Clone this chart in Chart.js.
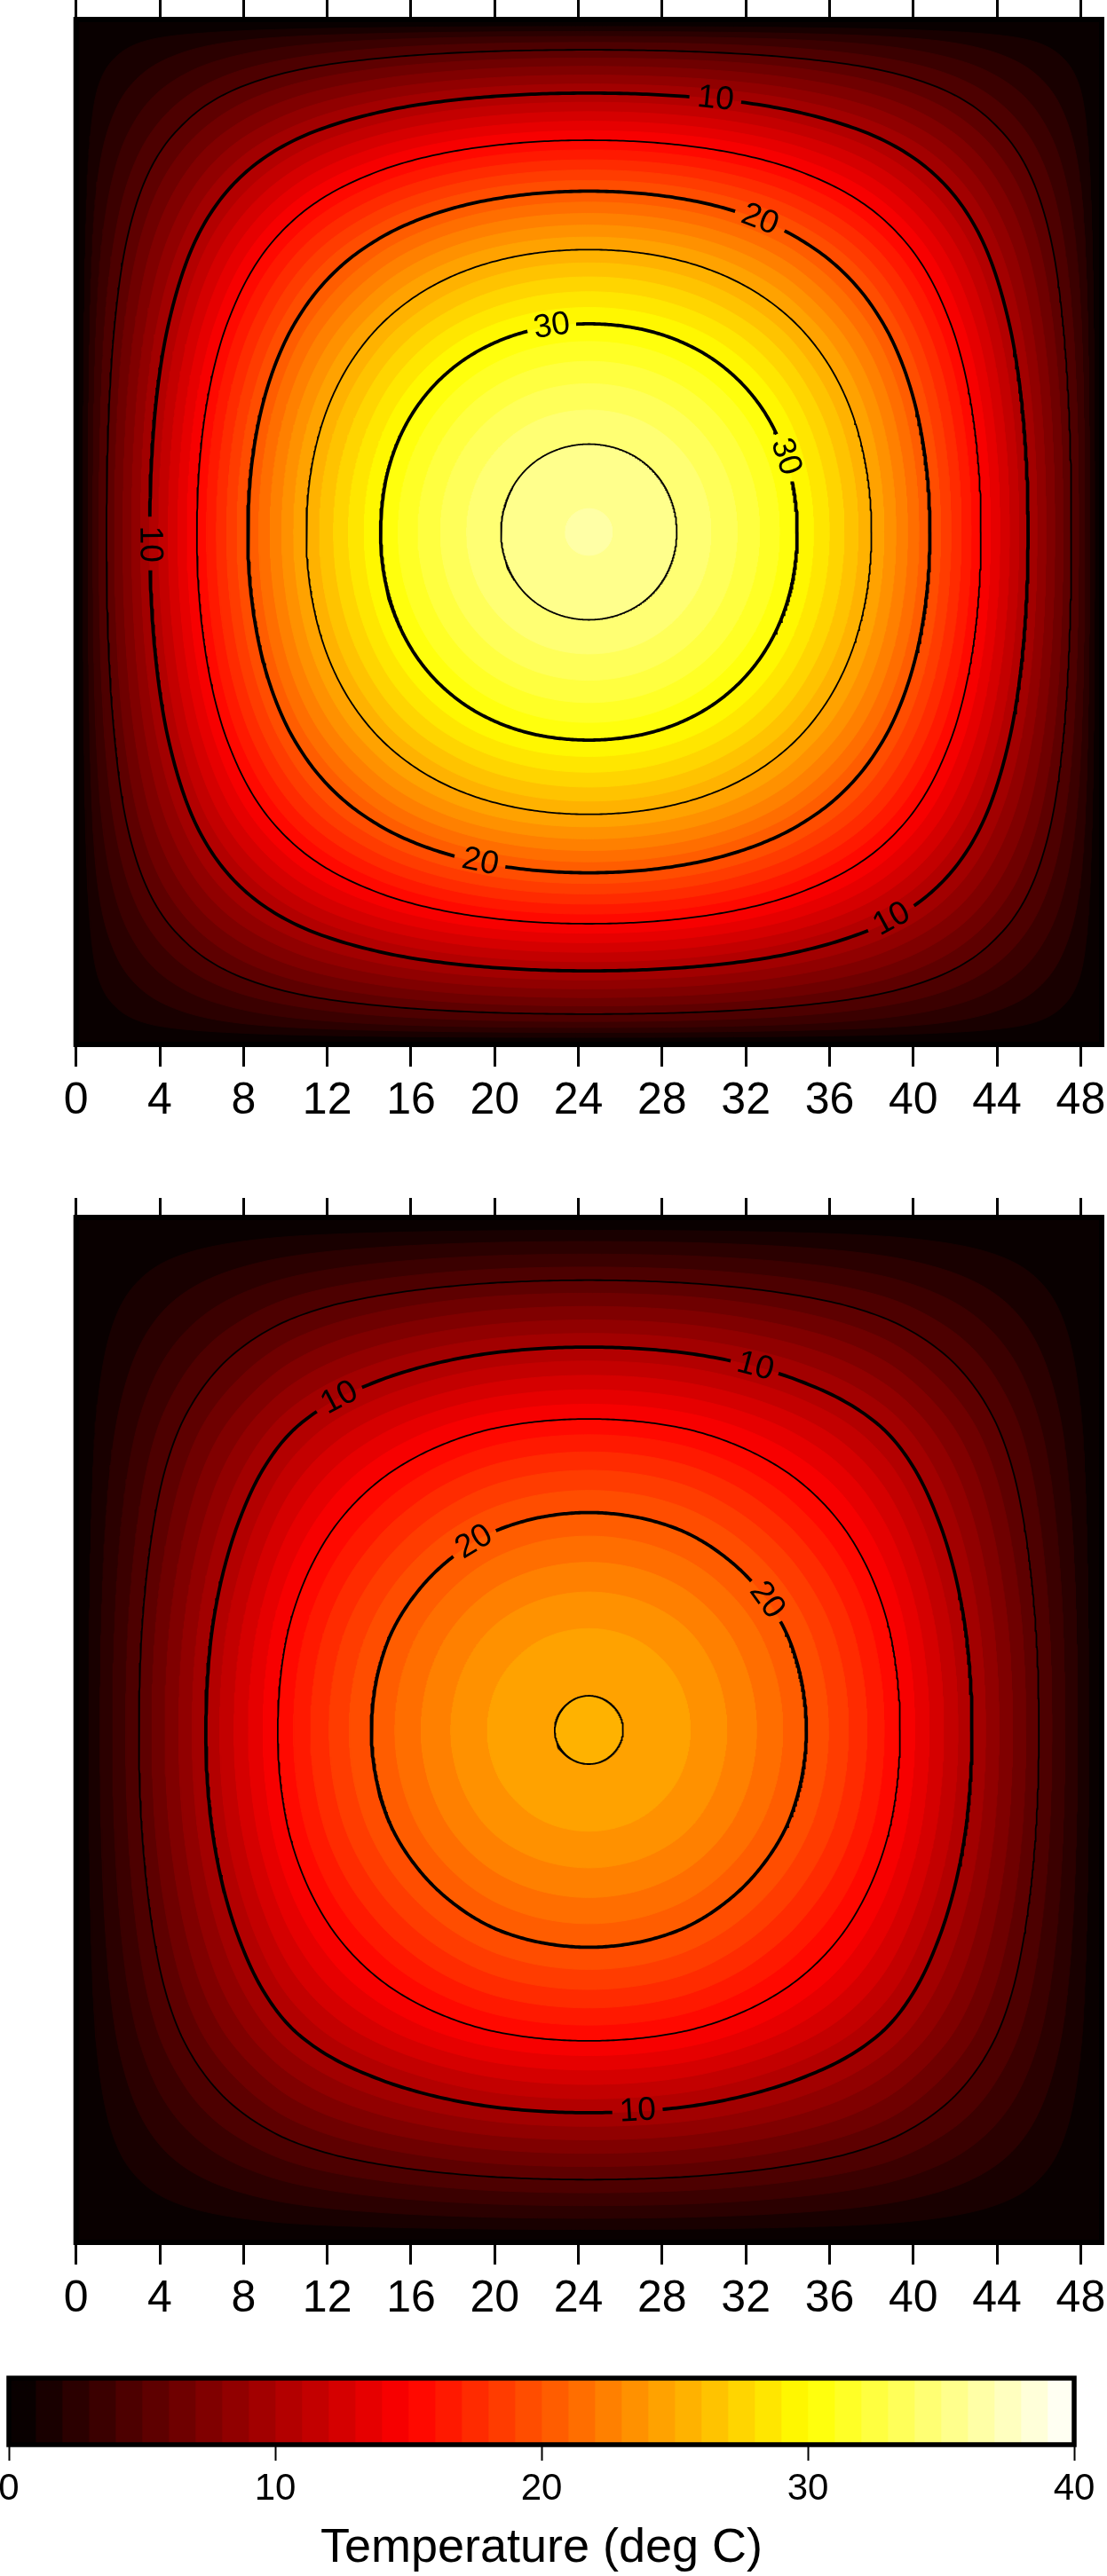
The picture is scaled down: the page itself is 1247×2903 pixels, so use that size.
<!DOCTYPE html>
<html lang="en">
<head>
<meta charset="UTF-8">
<title>Plate temperature</title>
<script src="https://cdn.jsdelivr.net/npm/chart.js@4"></script>
<style>
  body { margin: 0; background: #fff; width: 1247px; height: 2903px; position: relative; overflow: hidden; }
  canvas { position: absolute; left: 0; }
</style>
</head>
<body>
<canvas id="topPlate" width="1247" height="1300" style="top:0"></canvas>
<canvas id="bottomPlate" width="1247" height="1300" style="top:1340px"></canvas>
<canvas id="colorBar" width="1247" height="263" style="top:2640px"></canvas>
<script>
// temperature along the middle row of each plate (deg C), read at x = 0, 1, ... 49
const topRow = [0, 3.7, 6.4, 8.8, 11.1, 13.3, 15.5, 17.6, 19.6, 21.5, 23.3, 25.0, 26.55, 27.98, 29.3, 30.55, 31.65, 32.63, 33.49, 34.23, 34.84, 35.33, 35.7, 35.94, 36.06,
                36.06, 35.94, 35.7, 35.33, 34.84, 34.23, 33.49, 32.63, 31.65, 30.55, 29.3, 27.98, 26.55, 25.0, 23.3, 21.5, 19.6, 17.6, 15.5, 13.3, 11.1, 8.8, 6.4, 3.7, 0];
const bottomRow = [0, 1.75, 3.4, 5.0, 6.6, 8.15, 9.7, 11.2, 12.65, 14.1, 15.5, 16.75, 17.9, 18.95, 19.9, 20.8, 21.62, 22.38, 23.06, 23.66, 24.16, 24.54, 24.83, 25.02, 25.12,
                   25.12, 25.02, 24.83, 24.54, 24.16, 23.66, 23.06, 22.38, 21.62, 20.8, 19.9, 18.95, 17.9, 16.75, 15.5, 14.1, 12.65, 11.2, 9.7, 8.15, 6.6, 5.0, 3.4, 1.75, 0];

// colour table slices (deg C)
const binEdges = [0, 1, 2, 3, 4, 5, 6, 7, 8, 9, 10, 11, 12, 13, 14, 15, 16, 17, 18, 19, 20,
                  21, 22, 23, 24, 25, 26, 27, 28, 29, 30, 31, 32, 33, 34, 35, 36, 37, 38, 39, 40];
const contourLevels = [5, 10, 15, 20, 25, 30, 35];
const labelledLevels = [10, 20, 30];
// contour labels: [level, direction from plate centre in degrees]
const topLabels = [[10, 73.7], [20, 61.3], [30, 100.2], [30, 20.9], [10, 181.6], [20, 251.8], [10, 308]];
const bottomLabels = [[10, 126.9], [10, 65.4], [20, 121.4], [20, 36.1], [10, 277.3]];

const xTicks = [0, 4, 8, 12, 16, 20, 24, 28, 32, 36, 40, 44, 48];
const barTicks = [0, 10, 20, 30, 40];
const barTitle = 'Temperature (deg C)';

Chart.defaults.font.family = "'Liberation Sans', Arial, Helvetica, sans-serif";
Chart.defaults.color = '#000';

const tMin = binEdges[0], tMax = binEdges[binEdges.length - 1];

function hot(t) {
  const f = (t - tMin) / (tMax - tMin);
  const r = Math.min(1, f / 0.375);
  const g = Math.min(1, Math.max(0, (f - 0.375) / 0.375));
  const b = Math.min(1, Math.max(0, (f - 0.75) / 0.25));
  return 'rgb(' + Math.round(r * 255) + ',' + Math.round(g * 255) + ',' + Math.round(b * 255) + ')';
}

// Catmull-Rom between the read values so the contours come out smooth
function along(row, x) {
  const n = row.length;
  x = Math.max(0, Math.min(n - 1, x));
  const i = Math.min(Math.floor(x), n - 2);
  const f = x - i;
  const p0 = row[Math.max(i - 1, 0)], p1 = row[i], p2 = row[i + 1], p3 = row[Math.min(i + 2, n - 1)];
  return p1 + 0.5 * f * (p2 - p0 + f * (2 * p0 - 5 * p1 + 4 * p2 - p3 + f * (3 * (p1 - p2) + p3 - p0)));
}

// plate is separable: T(x, y) = row(x) * row(y) / row(centre)
function rayPoint(row, level, deg) {
  const c = (row.length - 1) / 2, peak = along(row, c);
  const a = deg * Math.PI / 180, dx = Math.cos(a), dy = Math.sin(a);
  let lo = 0, hi = c / Math.max(Math.abs(dx), Math.abs(dy));
  for (let k = 0; k < 40; k++) {
    const m = (lo + hi) / 2;
    if (along(row, c + m * dx) * along(row, c + m * dy) / peak >= level) lo = m; else hi = m;
  }
  return {x: c + lo * dx, y: c + lo * dy};
}

function ring(row, level, n) {
  const pts = [];
  for (let i = 0; i <= n; i++) pts.push(rayPoint(row, level, 360 * (i % n) / n));
  return pts;
}

const framePlugin = {
  id: 'frame',
  beforeDatasetsDraw(chart, args, opts) {
    if (!opts.background) return;
    const {ctx, chartArea: a} = chart;
    ctx.save();
    ctx.fillStyle = opts.background;
    ctx.fillRect(a.left, a.top, a.right - a.left, a.bottom - a.top);
    ctx.restore();
  },
  afterDraw(chart, args, opts) {
    const {ctx, chartArea: a} = chart;
    ctx.save();
    ctx.strokeStyle = '#000';
    ctx.lineWidth = opts.width || 6;
    ctx.strokeRect(a.left, a.top, a.right - a.left, a.bottom - a.top);
    ctx.restore();
  }
};

const labelPlugin = {
  id: 'contourLabels',
  afterDatasetsDraw(chart, args, opts) {
    if (!opts.items) return;
    const {ctx, scales: {x, y}} = chart;
    ctx.save();
    ctx.font = '37px ' + Chart.defaults.font.family;
    ctx.fillStyle = '#000';
    ctx.textAlign = 'center';
    ctx.textBaseline = 'middle';
    opts.items.forEach(it => {
      const px = x.getPixelForValue(it.p.x), py = y.getPixelForValue(it.p.y);
      let ang = Math.atan2(y.getPixelForValue(it.b.y) - y.getPixelForValue(it.a.y),
                           x.getPixelForValue(it.b.x) - x.getPixelForValue(it.a.x));
      if (ang > Math.PI / 2) ang -= Math.PI;
      if (ang <= -Math.PI / 2) ang += Math.PI;
      ctx.save();
      ctx.translate(px, py);
      ctx.rotate(ang);
      ctx.fillText(String(it.level), 0, 0);
      ctx.restore();
    });
    ctx.restore();
  }
};

function plate(id, row, labels, topH, bottomH) {
  const peak = along(row, (row.length - 1) / 2);
  const items = labels.map(([level, deg]) => ({
    level, p: rayPoint(row, level, deg), a: rayPoint(row, level, deg - 1), b: rayPoint(row, level, deg + 1)
  }));
  const datasets = [];
  binEdges.slice(1).filter(v => v < peak).forEach(v => {
    const c = hot(v + 0.5);
    datasets.push({
      data: ring(row, v, 720), showLine: true, fill: 'shape',
      backgroundColor: c, borderColor: c, borderWidth: 1, pointRadius: 0, order: 1000 - v
    });
  });
  contourLevels.filter(v => v < peak).forEach(v => {
    const pts = ring(row, v, 720).map(p =>
      items.some(it => it.level === v && Math.hypot(p.x - it.p.x, p.y - it.p.y) < 1.15) ? {x: null, y: null} : p);
    datasets.push({
      data: pts, showLine: true, fill: false, spanGaps: false,
      borderColor: '#000', borderWidth: labelledLevels.includes(v) ? 3.8 : 1.8, pointRadius: 0, order: -v
    });
  });
  const setTicks = s => { s.ticks = xTicks.map(v => ({value: v})); };
  new Chart(document.getElementById(id), {
    type: 'scatter',
    data: {datasets},
    options: {
      responsive: false,
      animation: false,
      events: [],
      layout: {padding: {left: 85.7, right: 6, top: 0, bottom: 0}},
      plugins: {
        legend: {display: false},
        tooltip: {enabled: false},
        frame: {background: hot(0.5), width: 6},
        contourLabels: {items}
      },
      scales: {
        x: {
          type: 'linear', position: 'bottom', min: 0, max: 49,
          afterBuildTicks: setTicks,
          afterFit: s => { s.height = bottomH; s.paddingLeft = 0; s.paddingRight = 0; },
          ticks: {font: {size: 50}, padding: 9, maxRotation: 0, autoSkip: false},
          grid: {drawOnChartArea: false, drawTicks: true, tickLength: 25, tickWidth: 3, tickColor: '#000'},
          border: {display: false}
        },
        x2: {
          type: 'linear', position: 'top', min: 0, max: 49,
          afterBuildTicks: setTicks,
          afterFit: s => { s.height = topH; s.paddingLeft = 0; s.paddingRight = 0; },
          ticks: {display: false},
          grid: {drawOnChartArea: false, drawTicks: true, tickLength: 22, tickWidth: 3, tickColor: '#000'},
          border: {display: false}
        },
        y: {type: 'linear', min: 0, max: 49, display: false}
      }
    },
    plugins: [framePlugin, labelPlugin]
  });
}

plate('topPlate', topRow, topLabels, 22, 123);
plate('bottomPlate', bottomRow, bottomLabels, 32, 113);

// colour bar
const barSets = binEdges.slice(0, -1).map((lo, i) => ({
  data: [[lo, binEdges[i + 1]]],
  backgroundColor: hot((lo + binEdges[i + 1]) / 2),
  borderWidth: 0, grouped: false, barPercentage: 1, categoryPercentage: 1
}));
new Chart(document.getElementById('colorBar'), {
  type: 'bar',
  data: {labels: [''], datasets: barSets},
  options: {
    indexAxis: 'y',
    responsive: false,
    animation: false,
    events: [],
    layout: {padding: {left: 10, right: 37, top: 40, bottom: 0}},
    plugins: {legend: {display: false}, tooltip: {enabled: false}, frame: {width: 5.5}},
    scales: {
      x: {
        type: 'linear', position: 'bottom', min: tMin, max: tMax,
        afterBuildTicks: s => { s.ticks = barTicks.map(v => ({value: v})); },
        afterFit: s => { s.height = 148; s.paddingLeft = 0; s.paddingRight = 0; },
        ticks: {font: {size: 42}, padding: 7, maxRotation: 0, autoSkip: false},
        grid: {drawOnChartArea: false, drawTicks: true, tickLength: 18, tickWidth: 2, tickColor: '#000'},
        border: {display: false},
        title: {display: true, text: barTitle, font: {size: 54, lineHeight: 1.15}, padding: {top: 0, bottom: 0}}
      },
      y: {display: false}
    }
  },
  plugins: [framePlugin]
});
</script>
</body>
</html>
